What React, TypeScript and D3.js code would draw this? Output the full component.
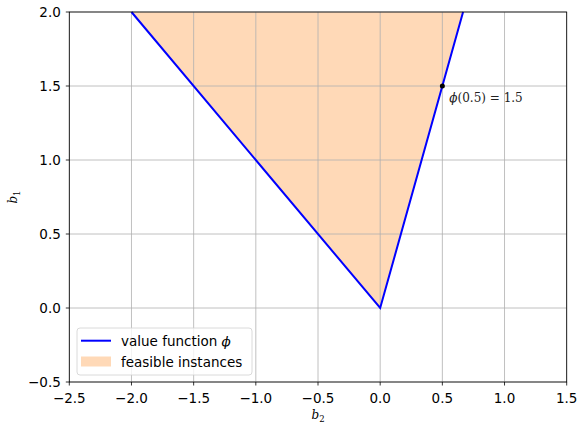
import React from 'react'
import * as d3 from 'd3'

// value function phi: breakpoints (b2, b1)
const phiB2 = [-2.0, 0.0, 2 / 3]
const phiB1 = [2.0, 0.0, 2.0]
const xTicks = [-2.5, -2.0, -1.5, -1.0, -0.5, 0.0, 0.5, 1.0, 1.5]
const yTicks = [-0.5, 0.0, 0.5, 1.0, 1.5, 2.0]
const markB2 = 0.5
const markB1 = 1.5

const W = 579
const H = 425
const margin = { top: 12, right: 12.3, bottom: 43, left: 69.3 }

function App() {
  const x = d3.scaleLinear().domain([-2.5, 1.5]).range([margin.left, W - margin.right])
  const y = d3.scaleLinear().domain([-0.5, 2.0]).range([H - margin.bottom, margin.top])
  const pts: [number, number][] = phiB2.map((b, i) => [b, phiB1[i]])
  const line = d3.line<[number, number]>().x(d => x(d[0])).y(d => y(d[1]))
  const fmt = (v: number) => d3.format('.1f')(v).replace('-', '\u2212')
  const serif = 'DejaVu Serif'
  const sans = 'DejaVu Sans'
  const fs = 13.5
  return (
    <svg width={W} height={H} style={{ display: 'block', position: 'absolute', left: 0, top: 0 }}>
      <rect width={W} height={H} fill="white" />
      <path d={line([...pts, pts[0]]) || ''} fill="#ffd9b7" />
      {xTicks.map(t => (
        <line key={'gx' + t} x1={x(t)} x2={x(t)} y1={y(-0.5)} y2={y(2)} stroke="#b0b0b0" strokeWidth={0.8} />
      ))}
      {yTicks.map(t => (
        <line key={'gy' + t} x1={x(-2.5)} x2={x(1.5)} y1={y(t)} y2={y(t)} stroke="#b0b0b0" strokeWidth={0.8} />
      ))}
      <path d={line(pts) || ''} fill="none" stroke="#0000ff" strokeWidth={2} />
      <circle cx={x(markB2)} cy={y(markB1)} r={2.5} fill="black" />
      <text x={x(markB2) + 7} y={y(markB1) + 16} fontFamily={serif} fontSize={12} fill="#222">
        <tspan fontStyle="italic">ϕ</tspan>(0.5) = 1.5
      </text>
      <rect x={x(-2.5)} y={y(2)} width={x(1.5) - x(-2.5)} height={y(-0.5) - y(2)} fill="none" stroke="black" strokeWidth={0.8} />
      {xTicks.map(t => (
        <g key={'tx' + t}>
          <line x1={x(t)} x2={x(t)} y1={y(-0.5)} y2={y(-0.5) + 3.5} stroke="black" strokeWidth={0.8} />
          <text x={x(t)} y={y(-0.5) + 20.5} textAnchor="middle" fontFamily={sans} fontSize={fs}>{fmt(t)}</text>
        </g>
      ))}
      {yTicks.map(t => (
        <g key={'ty' + t}>
          <line x1={x(-2.5) - 3.5} x2={x(-2.5)} y1={y(t)} y2={y(t)} stroke="black" strokeWidth={0.8} />
          <text x={x(-2.5) - 8.5} y={y(t) + 5} textAnchor="end" fontFamily={sans} fontSize={fs}>{fmt(t)}</text>
        </g>
      ))}
      <text x={(x(-2.5) + x(1.5)) / 2} y={419} textAnchor="middle" fontFamily={serif} fontSize={12} fontStyle="italic">
        b<tspan fontSize={8.5} dy={3} fontStyle="normal">2</tspan>
      </text>
      <text transform={`translate(17,${(y(-0.5) + y(2)) / 2}) rotate(-90)`} textAnchor="middle" fontFamily={serif} fontSize={12} fontStyle="italic">
        b<tspan fontSize={8.5} dy={3} fontStyle="normal">1</tspan>
      </text>
      <g transform="translate(77,328)">
        <rect width={175} height={47} rx={3} fill="white" fillOpacity={0.8} stroke="#d0d0d0" strokeWidth={0.8} />
        <line x1={4} x2={34} y1={12.7} y2={12.7} stroke="#0000ff" strokeWidth={2} />
        <text x={44} y={17.5} fontFamily={sans} fontSize={fs}>value function <tspan fontFamily={serif} fontStyle="italic">ϕ</tspan></text>
        <rect x={4} y={28.5} width={30} height={10} fill="#ffd9b7" />
        <text x={44} y={38.5} fontFamily={sans} fontSize={fs}>feasible instances</text>
      </g>
    </svg>
  )
}
export default App
